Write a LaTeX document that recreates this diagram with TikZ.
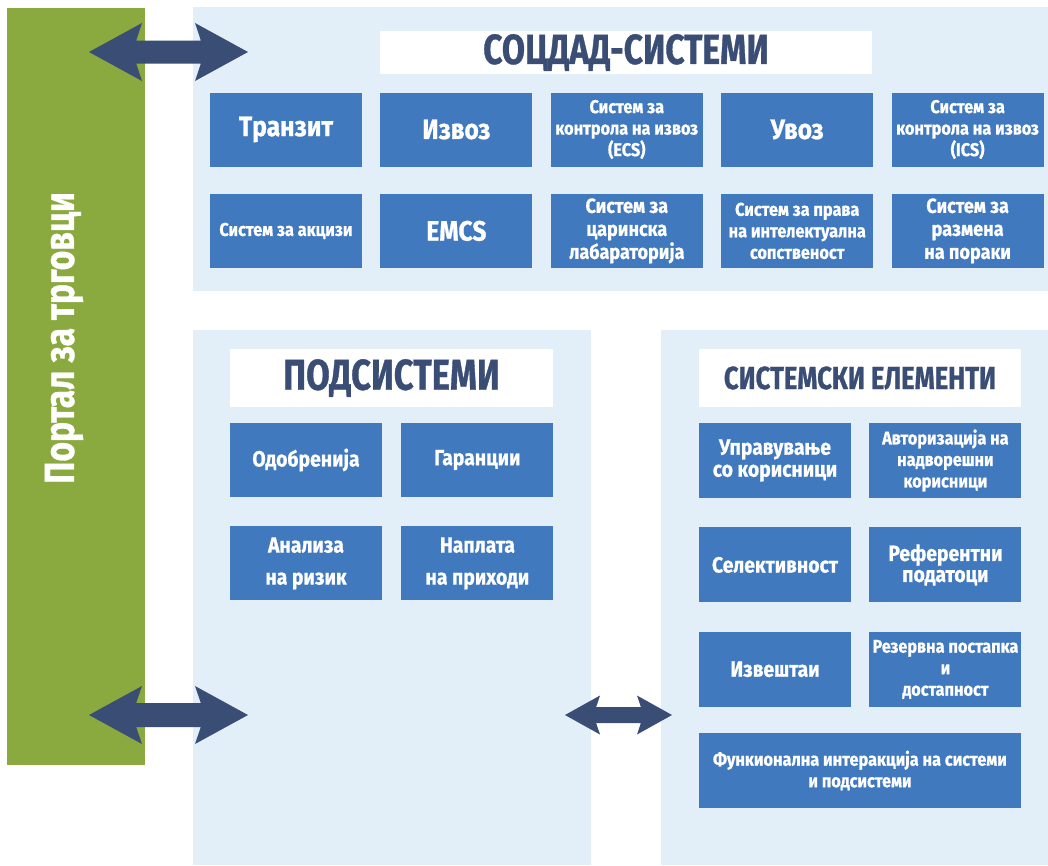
\documentclass[tikz,border=0pt]{standalone}
\usepackage{fontspec}
\setmainfont{Fira Sans}[FakeStretch=0.88,BoldFeatures={FakeBold=0.8}]
\newfontfamily\headfont{Fira Sans}[FakeStretch=0.8,BoldFeatures={FakeBold=0.8}]
\usetikzlibrary{positioning,calc}
\definecolor{portalgreen}{RGB}{138,169,62}
\definecolor{panelblue}{RGB}{227,239,248}
\definecolor{boxblue}{RGB}{65,121,191}
\definecolor{navy}{RGB}{58,77,116}
% two-headed block arrow: left tip, right tip, half head, half shaft, head length
\newcommand{\biarrow}[5]{%
  \fill[navy] (#1) -- ++(#5,-#3) -- ++({-0.11*#5},{#3-#4}) -- ($(#2)+({-0.89*#5},-#4)$)
    -- ++({-0.11*#5},{#4-#3}) -- (#2) -- ++({-#5},#3) -- ++({0.11*#5},{#4-#3})
    -- ($(#1)+({0.89*#5},#4)$) -- ++({0.11*#5},{#3-#4}) -- cycle;}

\begin{document}
\begin{tikzpicture}[x=1pt,y=-1pt,
  panel/.style={fill=panelblue,anchor=north west,inner sep=0pt},
  box/.style={fill=boxblue,text=white,align=center,inner sep=0pt,minimum width=152pt,minimum height=74pt},
  titlebox/.style={fill=white,text=navy,inner sep=0pt},
  txtbig/.style={font=\fontsize{28}{30}\selectfont\bfseries},
  txtmed/.style={font=\fontsize{22}{22}\selectfont\bfseries},
  txtsmall/.style={font=\fontsize{18.5}{21.5}\selectfont\bfseries}]
	\useasboundingbox (0,0) rectangle (1048,865);
	% portal bar and the three panels
	\node[panel,fill=portalgreen,minimum width=138pt,minimum height=757pt] (portal) at (7,8) {};
	\node[text=white,rotate=90,font=\headfont\fontsize{42}{42}\selectfont\bfseries] (portaltxt) at (64,338) {Портал за трговци};
	\node[panel,minimum width=855pt,minimum height=284pt] (socdad) at (193,7) {};
	\node[panel,minimum width=398pt,minimum height=535pt] (podsis) at (193,330) {};
	\node[panel,minimum width=387pt,minimum height=535pt] (sisel) at (661,330) {};
	% titles
	\node[titlebox,minimum width=492pt,minimum height=43pt,font=\headfont\fontsize{42}{42}\selectfont\bfseries] (soctitle) at (626,52.5) {СОЦДАД-СИСТЕМИ};
	\node[titlebox,minimum width=323pt,minimum height=58pt,font=\headfont\fontsize{43}{43}\selectfont\bfseries] (podtitle) at (391.5,378) {ПОДСИСТЕМИ};
	\node[titlebox,minimum width=322pt,minimum height=58pt,font=\headfont\fontsize{32}{32}\selectfont\bfseries] (sistitle) at (860,378) {СИСТЕМСКИ ЕЛЕМЕНТИ};
	% SOCDAD systems
	\node[box,txtbig] (tranzit) at (286,129.5) {Транзит};
	\node[box,txtbig,right=18pt of tranzit] (izvoz) {Извоз};
	\node[box,txtsmall,right=18pt of izvoz] (ecs) {Систем за\\контрола на извоз\\(ECS)};
	\node[box,txtbig,right=18pt of ecs] (uvoz) {Увоз};
	\node[box,txtsmall,right=18pt of uvoz] (ics) {Систем за\\контрола на извоз\\(ICS)};
	\node[box,txtsmall,below=27pt of tranzit] (akcizi) {Систем за акцизи};
	\node[box,txtbig,right=18pt of akcizi] (emcs) {EMCS};
	\node[box,font=\fontsize{20.5}{23}\selectfont\bfseries,right=18pt of emcs] (lab) {Систем за\\царинска\\лабараторија};
	\node[box,txtsmall,right=18pt of lab] (prava) {Систем за права\\на интелектуална\\сопственост};
	\node[box,font=\fontsize{20.5}{23}\selectfont\bfseries,right=18pt of prava] (poraki) {Систем за\\размена\\на пораки};
	% subsystems
	\node[box,txtmed] (odobr) at (306,460) {Одобренија};
	\node[box,txtmed,right=19pt of odobr] (garan) {Гаранции};
	\node[box,font=\fontsize{22}{32}\selectfont\bfseries,below=29pt of odobr] (analiza) {Анализа\\на ризик};
	\node[box,font=\fontsize{22}{32}\selectfont\bfseries,right=19pt of analiza] (naplata) {Наплата\\на приходи};
	% system elements
	\node[box,txtmed,minimum height=75pt] (uprav) at (775,460.5) {Управување\\со корисници};
	\node[box,txtsmall,minimum height=75pt,right=18pt of uprav] (avtor) {Авторизација на\\надворешни\\корисници};
	\node[box,txtmed,minimum height=75pt,below=29pt of uprav] (selekt) {Селективност};
	\node[box,font=\fontsize{22}{21}\selectfont\bfseries,minimum height=75pt,right=18pt of selekt] (refer) {Референтни\\податоци};
	\node[box,txtmed,minimum height=75pt,below=29pt of selekt] (izvest) {Извештаи};
	\node[box,txtsmall,minimum height=75pt,right=18pt of izvest] (rezerv) {Резервна постапка\\и\\достапност};
	\node[box,txtsmall,minimum width=322pt,minimum height=75pt] (funk) at (860,770.5) {Функионална интеракција на системи\\и подсистеми};
	% arrows
	\coordinate (topL) at (89,52);
	\coordinate (topR) at (248,52);
	\coordinate (botL) at (89,715);
	\coordinate (botR) at (248,715);
	\coordinate (midL) at (565,715);
	\coordinate (midR) at (672,715);
	\biarrow{topL}{topR}{29}{11.5}{53}
	\biarrow{botL}{botR}{29}{12}{53}
	\biarrow{midL}{midR}{19.5}{8}{35}
\end{tikzpicture}
\end{document}
